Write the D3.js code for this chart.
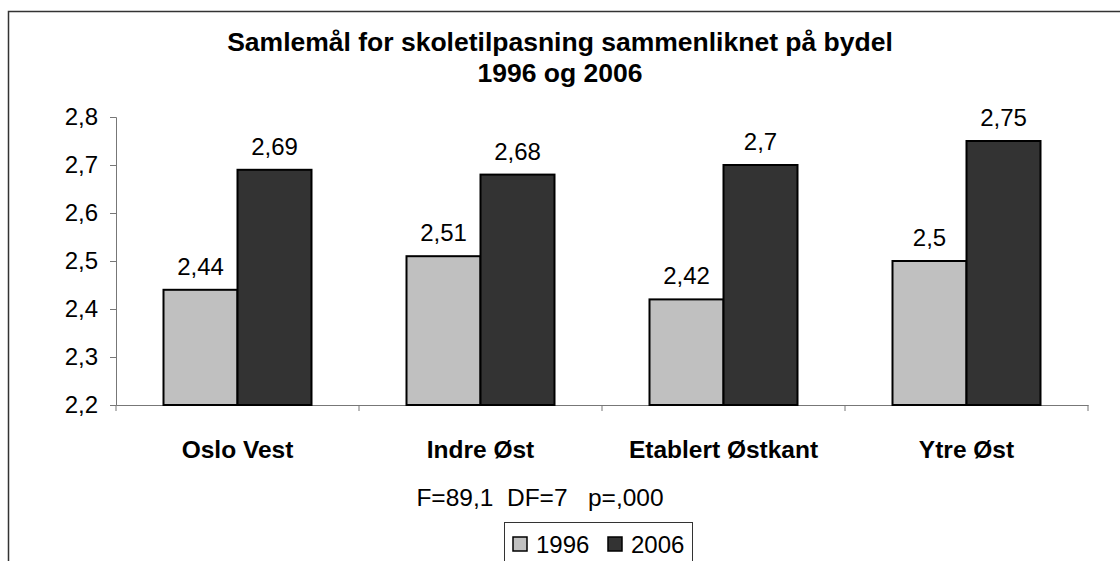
<!DOCTYPE html>
<html><head><meta charset="utf-8">
<script src="https://cdn.jsdelivr.net/npm/d3@7"></script>
<style>body{margin:0;background:#fff}svg{display:block;font-family:Arial,"Liberation Sans",sans-serif}</style>
</head><body><svg id="c" width="1120" height="561"></svg>
<script>
const categories = ["Oslo Vest","Indre Øst","Etablert Østkant","Ytre Øst"];
const seriesNames = ["1996","2006"];
const values1996 = [2.44,2.51,2.42,2.5];
const values2006 = [2.69,2.68,2.7,2.75];
const yTicks = [2.2,2.3,2.4,2.5,2.6,2.7,2.8];
const titleLines = ["Samlemål for skoletilpasning sammenliknet på bydel","1996 og 2006"];
const statsText = "F=89,1  DF=7   p=,000";
const colors = ["#c0c0c0","#333333"];

const FF = "Arial,'Liberation Sans',sans-serif";
const svg = d3.select("#c");
svg.append("rect").attr("x",8.5).attr("y",11.5).attr("width",1130).attr("height",600)
  .attr("fill","none").attr("stroke","#333").attr("stroke-width",1.5);

const L=116, R=1088, T=117, B=405;
const x = d3.scaleBand().domain(categories).range([L,R]).paddingInner(0).paddingOuter(0);
const x1 = d3.scaleBand().domain(seriesNames).range([0,148]);
const groupOff = (x.bandwidth()-148)/2;
const y = d3.scaleLinear().domain([2.2,2.8]).range([B,T]);
const fmt = v => String(v).replace(".",",");

svg.selectAll("text.title").data(titleLines).join("text").attr("class","title")
  .attr("x",560).attr("y",(d,i)=>51+i*31).attr("text-anchor","middle")
  .attr("font-size",26.5).attr("font-weight","bold").text(d=>d);

// y axis
const yAxis = svg.append("g").attr("transform",`translate(${L},0)`)
  .call(d3.axisLeft(y).tickValues(yTicks).tickSize(6).tickPadding(12).tickFormat(fmt));
yAxis.select(".domain").attr("stroke","#777");
yAxis.selectAll(".tick line").attr("stroke","#777");
yAxis.selectAll("text").attr("font-size",24).attr("fill","#000").attr("font-family",FF);

// x axis
const xAxis = svg.append("g").attr("transform",`translate(0,${B})`)
  .call(d3.axisBottom(x).tickSize(0).tickFormat(""));
xAxis.select(".domain").attr("stroke","#777");
xAxis.selectAll(".tick").remove();
const bounds = categories.map(c=>x(c)).concat([R]);
xAxis.selectAll("line.b").data(bounds).join("line").attr("class","b")
  .attr("x1",d=>d).attr("x2",d=>d).attr("y1",0).attr("y2",6).attr("stroke","#777");

svg.selectAll("text.cat").data(categories).join("text").attr("class","cat")
  .attr("x",d=>x(d)+x.bandwidth()/2).attr("y",458).attr("text-anchor","middle")
  .attr("font-size",24.5).attr("font-weight","bold").text(d=>d);

const series = [values1996, values2006];
series.forEach((vals,si)=>{
  const g = svg.append("g");
  g.selectAll("rect").data(vals).join("rect")
    .attr("x",(d,i)=>x(categories[i])+groupOff+x1(seriesNames[si]))
    .attr("y",d=>y(d)).attr("width",x1.bandwidth()).attr("height",d=>B-y(d))
    .attr("fill",colors[si]).attr("stroke","#000").attr("stroke-width",2);
  g.selectAll("text").data(vals).join("text")
    .attr("x",(d,i)=>x(categories[i])+groupOff+x1(seriesNames[si])+x1.bandwidth()/2)
    .attr("y",d=>y(d)-15).attr("text-anchor","middle").attr("font-size",24).text(fmt);
});

svg.append("text").attr("x",540).attr("y",506).attr("text-anchor","middle")
  .attr("font-size",24.5).attr("xml:space","preserve").style("white-space","pre").text(statsText);

// legend
const lg = svg.append("g");
lg.append("rect").attr("x",504.5).attr("y",522.5).attr("width",188).attr("height",50)
  .attr("fill","#fff").attr("stroke","#333").attr("stroke-width",1);
const legX=[513,608];
seriesNames.forEach((s,i)=>{
  lg.append("rect").attr("x",legX[i]).attr("y",537).attr("width",14).attr("height",14)
    .attr("fill",colors[i]).attr("stroke","#000").attr("stroke-width",1.5);
  lg.append("text").attr("x",legX[i]+23).attr("y",553).attr("font-size",24).text(s);
});
</script></body></html>
